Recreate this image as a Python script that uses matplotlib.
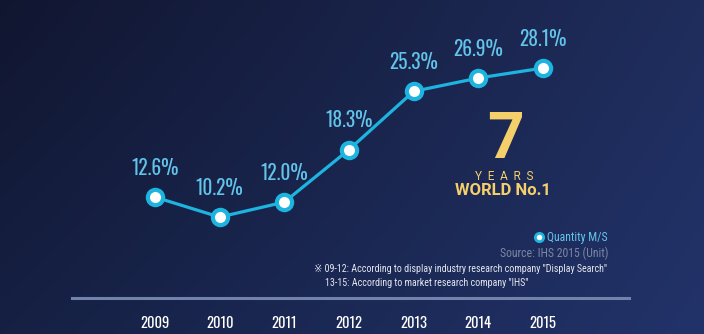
import numpy as np
import matplotlib
matplotlib.use("Agg")
import matplotlib.pyplot as plt
from matplotlib.lines import Line2D

# Market share data
years = [2009, 2010, 2011, 2012, 2013, 2014, 2015]
share = [12.6, 10.2, 12.0, 18.3, 25.3, 26.9, 28.1]
share_labels = ["12.6%", "10.2%", "12.0%", "18.3%", "25.3%", "26.9%", "28.1%"]

NUM = ["Oswald", "DejaVu Sans"]
NOTE = ["Roboto Condensed", "DejaVu Sans"]
BOLD = ["Roboto", "DejaVu Sans"]
CYAN = "#1db4e0"
LABEL = "#62c4ea"
GOLD = "#f4cf6a"

W, H = 704, 334
fig = plt.figure(figsize=(W / 100, H / 100), dpi=100)

# gradient background
bg = fig.add_axes([0, 0, 1, 1], zorder=0)
tl = np.array([17, 22, 48]) / 255
tr = np.array([31, 45, 92]) / 255
bl = np.array([21, 32, 67]) / 255
br = np.array([34, 51, 106]) / 255
u = np.linspace(0, 1, W)[None, :, None]
v = np.linspace(0, 1, H)[:, None, None]
img = (1 - v) * ((1 - u) * tl + u * tr) + v * ((1 - u) * bl + u * br)
bg.imshow(img, aspect="auto", extent=[0, 1, 0, 1])
bg.set_axis_off()

ax = fig.add_axes([0, 0, 1, 1], zorder=1)
ax.patch.set_alpha(0)
ax.set_xlim(2006.603, 2017.49)
ax.set_ylim(-3.84, 36.27)
ax.set_axis_off()

ax.plot(years, share, color=CYAN, lw=2.3, zorder=2,
        marker="o", markersize=11, markerfacecolor="white",
        markeredgecolor=CYAN, markeredgewidth=3)

for x, y, s in zip(years, share, share_labels):
    ax.annotate(s, (x, y), xytext=(0, 21), textcoords="offset points",
                ha="center", va="center", color=LABEL, fontsize=14,
                fontweight=500, family=NUM)

# baseline and year labels
fig.add_artist(Line2D([72 / W, 629 / W], [1 - 298 / H, 1 - 298 / H],
                      color="#7183ab", lw=2.2))
for x in years:
    ax.text(x, 1 - 323 / H, str(x), transform=ax.get_xaxis_transform(),
            ha="center", va="center", color="white", fontsize=10.5,
            fontweight="bold", family=NUM)

# "7 YEARS WORLD No.1"
fig.text(505 / W, 1 - 140 / H, "7", color=GOLD, fontsize=46,
         fontweight="bold", ha="center", va="center", family=BOLD)
fig.text(504 / W, 1 - 176 / H, "Y  E  A  R  S", color=GOLD, fontsize=8.5,
         ha="center", va="center", family=BOLD)
fig.text(503 / W, 1 - 190 / H, "WORLD No.1", color=GOLD, fontsize=12,
         fontweight="bold", ha="center", va="center", family=BOLD)

# legend and notes
fig.text(608 / W, 1 - 237 / H, "Quantity M/S", color=LABEL, fontsize=8.5,
         ha="right", va="center", family=NOTE)
fig.add_artist(Line2D([539 / W], [1 - 237 / H], marker="o", markersize=6,
                      markerfacecolor="white", markeredgecolor=CYAN,
                      markeredgewidth=2))
fig.text(608 / W, 1 - 253 / H, "Source: IHS 2015 (Unit)", color="#7b86a3",
         fontsize=8.5, ha="right", va="center", family=NOTE)
fig.text(607 / W, 1 - 269 / H,
         "\u203b 09-12: According to display industry research company \"Display Search\"",
         color="#e4e7f0", fontsize=7.2, ha="right", va="center", family=NOTE)
fig.text(325 / W, 1 - 283 / H,
         "13-15: According to market research company \"IHS\"",
         color="#e4e7f0", fontsize=7.2, ha="left", va="center", family=NOTE)

fig.savefig("out.png", dpi=100)
